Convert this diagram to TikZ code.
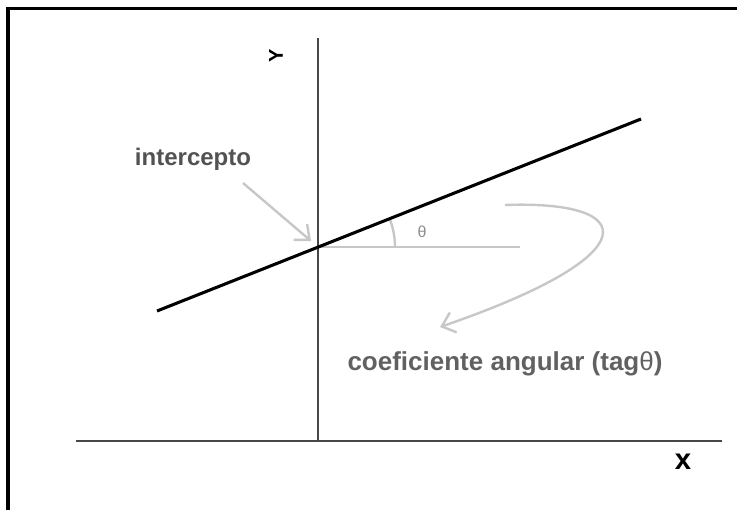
\documentclass[tikz,border=0pt]{standalone}
\usepackage{fontspec}
\setmainfont{Liberation Sans}
\usetikzlibrary{arrows.meta,positioning}
\tikzset{
  lbl/.style={font=\bfseries\fontsize{18}{20}\selectfont, inner sep=0pt},
  axisline/.style={draw=black!72, line width=1.2pt},
  guide/.style={draw=black!22, line width=1.8pt},
  note/.style={guide, -{Straight Barb[length=3.2mm,width=5.5mm,line width=1.8pt]}},
}
\begin{document}
\begin{tikzpicture}[x=0.75pt,y=-0.75pt]
  \useasboundingbox (0,0) rectangle (737,510);
  \draw[line width=2.4pt] (8,510) -- (8,8.5) -- (737,8.5);
  \coordinate (o)    at (318,247);
  \coordinate (ytop) at (318,38);
  \coordinate (ybot) at (318,441);
  \coordinate (xl)   at (76,441);
  \coordinate (xr)   at (722,441);
  \coordinate (la)   at (157,311);
  \coordinate (lb)   at (641,119);
  \coordinate (hr)   at (520,247);
  \coordinate (ia)   at (243,183);
  \coordinate (it)   at (311,241);
  \coordinate (ca)   at (505,205);
  \coordinate (cb)   at (440,327);
  \draw[axisline] (ytop) -- (ybot);
  \draw[axisline] (xl) -- (xr);
  \node[lbl, rotate=90, font=\bfseries\fontsize{15}{15}\selectfont] (ylab) at (276,56) {Y};
  \node[lbl, font=\bfseries\fontsize{22}{22}\selectfont] (xlab) at (683,462) {x};
  \draw[guide] (o) -- (hr);
  \draw[guide] (395,247) arc[start angle=0, end angle=-22, radius=77];
  \node[font=\fontsize{12}{12}\selectfont, text=black!45] (th) at (422,232) {θ};
  \draw[line width=2.3pt] (la) -- (lb);
  \node[lbl, text=black!68] (ic) at (193,159) {intercepto};
  \draw[note] (ia) -- (it);
  \draw[note] (ca) .. controls (640,200) and (650,255) .. (cb);
  \node[lbl, text=black!62, font=\bfseries\fontsize{19.5}{21}\selectfont] (cf) at (505,364) {coeficiente angular (tag{\mdseries θ})};
\end{tikzpicture}
\end{document}
